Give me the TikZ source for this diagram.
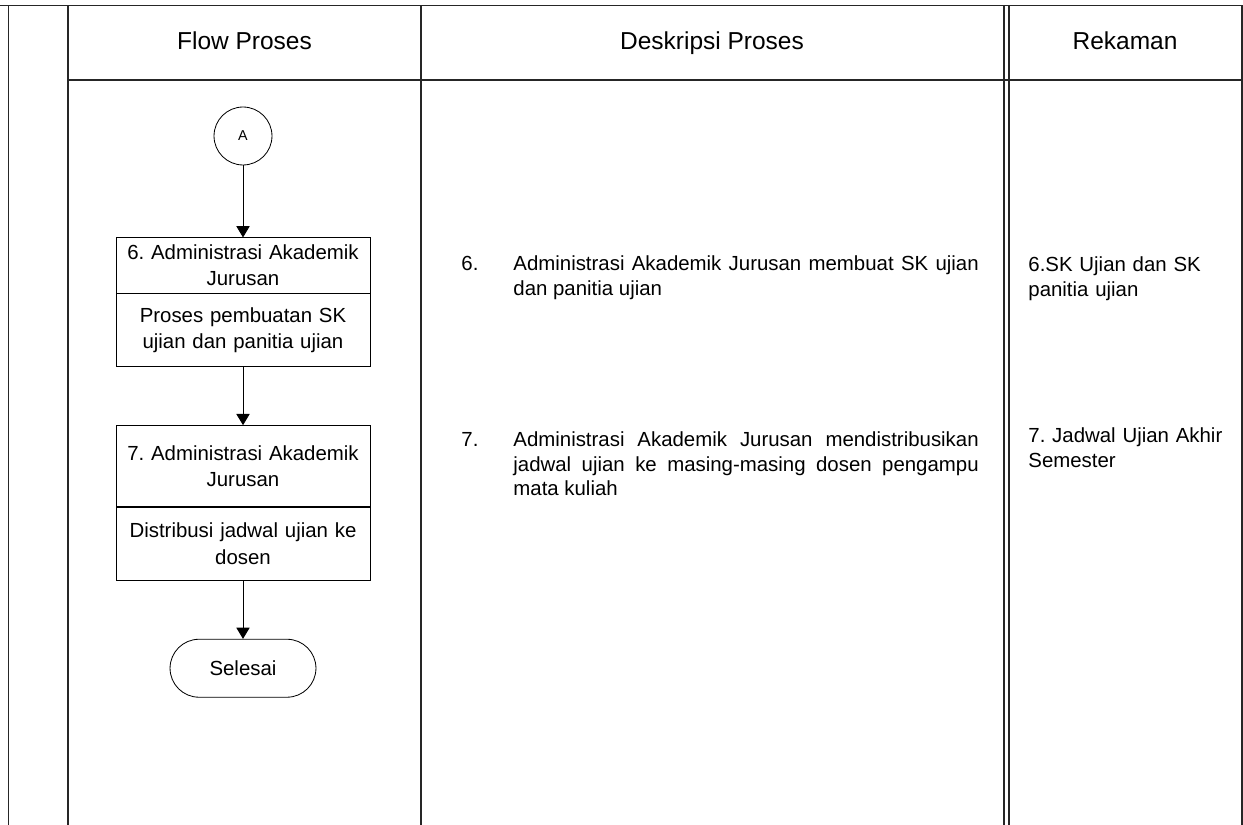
\documentclass[tikz,border=0pt]{standalone}
\usepackage{fontspec}
\setmainfont{Liberation Sans}
\frenchspacing
\usetikzlibrary{arrows.meta, positioning}
\tikzset{
    x=0.49pt, y=-0.49pt,
    font=\fontsize{10}{12}\selectfont,
    >={Triangle[width=6.5pt,length=5.5pt]},
    % Table
    tableline/.style={line width=0.9pt, black!85},
    head/.style={anchor=base, font=\fontsize{12}{14}\selectfont},
    % Flow shapes
    connector/.style={circle, draw, thin, minimum size=28.4pt, inner sep=0pt,
                      font=\fontsize{7}{8}\selectfont},
    actor/.style={rectangle, draw, thin, minimum width=124.5pt, text width=121pt,
                  align=center, inner sep=1pt, font=\fontsize{10}{13}\selectfont},
    task/.style={actor, minimum height=35.8pt},
    terminal/.style={rectangle, draw, thin, rounded corners=14.2pt,
                     minimum width=71.5pt, minimum height=28.4pt},
    flow/.style={->, thin},
    % Text columns
    num/.style={anchor=base west, inner sep=0pt},
    desc/.style={anchor=base west, inner sep=0pt, text width=228pt, align=justify,
                 execute at begin node={\hyphenpenalty=10000\exhyphenpenalty=10000\tolerance=10000}},
    rec/.style={anchor=base west, inner sep=0pt, text width=100pt, align=left,
                font=\fontsize{10}{12.25}\selectfont}
}
\begin{document}
\begin{tikzpicture}

\useasboundingbox (0,0) rectangle (1243,825);

% table frame
\draw[tableline] (0,5.5) -- (1243,5.5);
\draw[tableline] (8.5,5.5) -- (8.5,825);
\draw[tableline] (68,5.5) -- (68,825);
\draw[tableline] (68,80) -- (1243,80);
\draw[tableline] (421,5.5) -- (421,825);
\draw[tableline] (1004,5.5) -- (1004,825);
\draw[tableline] (1009,5.5) -- (1009,825);
\draw[tableline] (1242,5.5) -- (1242,825);

\node[head] (hFlow) at (244.5,50) {Flow Proses};
\node[head] (hDesk) at (712,50) {Deskripsi Proses};
\node[head] (hRek) at (1125,50) {Rekaman};

% flow
\node[connector] (conA) at (243,136) {A};
\node[actor, minimum height=27pt, below=35.3pt of conA] (act6) {6. Administrasi Akademik\\Jurusan};
\node[task, below=0pt of act6] (task6) {Proses pembuatan SK\\ujian dan panitia ujian};
\node[actor, minimum height=39.7pt, below=28.4pt of task6] (act7) {7. Administrasi Akademik\\Jurusan};
\node[task, below=0pt of act7] (task7) {Distribusi jadwal ujian ke\\dosen};
\node[terminal, below=28.4pt of task7] (selesai) {Selesai};

\draw[flow] (conA) -- (act6);
\draw[flow] (task6) -- (act7);
\draw[flow] (task7) -- (selesai);

% description
\node[num] (n6) at (461,271) {6.};
\node[desc] (d6) at (513,271) {Administrasi Akademik Jurusan membuat SK ujian dan panitia ujian};
\node[num] (n7) at (461,447) {7.};
\node[desc] (d7) at (513,447) {Administrasi Akademik Jurusan mendistribusikan jadwal ujian ke masing-masing dosen pengampu mata kuliah};

% records
\node[rec] (r6) at (1028,272) {6.SK Ujian dan SK\\panitia ujian};
\node[rec] (r7) at (1028,443) {7. Jadwal Ujian Akhir\\Semester};

\end{tikzpicture}
\end{document}
